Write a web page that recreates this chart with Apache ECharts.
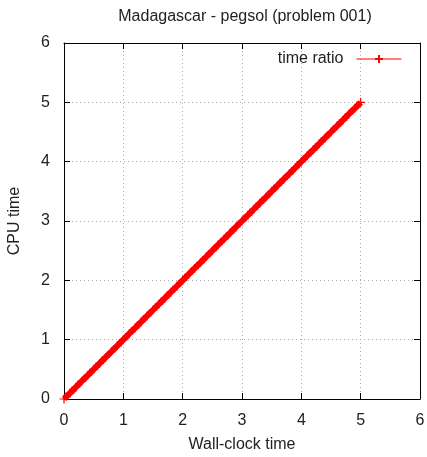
<!DOCTYPE html>
<html>
<head>
<meta charset="utf-8">
<script src="https://cdn.jsdelivr.net/npm/echarts@6/dist/echarts.min.js"></script>
<style>
  html, body { margin: 0; padding: 0; background: #fff; }
  #chart { width: 427px; height: 457px; }
</style>
</head>
<body>
<div id="chart"></div>
<script>
var wallTime = [0, 0.1, 0.2, 0.3, 0.4, 0.5, 0.6, 0.7, 0.8, 0.9, 1.0, 1.1, 1.2, 1.3, 1.4, 1.5, 1.6, 1.7, 1.8, 1.9,
  2.0, 2.1, 2.2, 2.3, 2.4, 2.5, 2.6, 2.7, 2.8, 2.9, 3.0, 3.1, 3.2, 3.3, 3.4, 3.5, 3.6, 3.7, 3.8, 3.9,
  4.0, 4.1, 4.2, 4.3, 4.4, 4.5, 4.6, 4.7, 4.8, 4.9, 5.0]
var cpuTime = [0, 0.1, 0.2, 0.3, 0.4, 0.5, 0.6, 0.7, 0.8, 0.9, 1.0, 1.1, 1.2, 1.3, 1.4, 1.5, 1.6, 1.7, 1.8, 1.9,
  2.0, 2.1, 2.2, 2.3, 2.4, 2.5, 2.6, 2.7, 2.8, 2.9, 3.0, 3.1, 3.2, 3.3, 3.4, 3.5, 3.6, 3.7, 3.8, 3.9,
  4.0, 4.1, 4.2, 4.3, 4.4, 4.5, 4.6, 4.7, 4.8, 4.9, 5.0]
var xTicks = [0, 1, 2, 3, 4, 5, 6]
var yTicks = [0, 1, 2, 3, 4, 5, 6]

var font = 'Liberation Sans, Arial, sans-serif'
var fs = 16
var points = wallTime.map(function (w, i) { return [w, cpuTime[i]] })

var chart = echarts.init(document.getElementById('chart'))

function mainAxis(name, pos, ticks, nameGap, margin) {
  return {
    type: 'value',
    position: pos,
    min: ticks[0],
    max: ticks[ticks.length - 1],
    interval: 1,
    name: name,
    nameLocation: 'middle',
    nameGap: nameGap,
    nameTextStyle: { fontFamily: font, fontSize: fs, color: '#222' },
    axisLine: { show: true, onZero: false, lineStyle: { color: '#000', width: 1 } },
    axisTick: { show: true, inside: true, length: 6, lineStyle: { color: '#000' } },
    axisLabel: { fontFamily: font, fontSize: fs, color: '#222', margin: margin },
    splitLine: { show: true, lineStyle: { color: '#aaa', type: [1, 3], width: 1 } }
  }
}

function mirrorAxis(pos, ticks) {
  return {
    type: 'value',
    position: pos,
    min: ticks[0],
    max: ticks[ticks.length - 1],
    interval: 1,
    axisLine: { show: true, onZero: false, lineStyle: { color: '#000', width: 1 } },
    axisTick: { show: true, inside: true, length: 6, lineStyle: { color: '#000' } },
    axisLabel: { show: false },
    splitLine: { show: false }
  }
}

chart.setOption({
  animation: false,
  backgroundColor: '#fff',
  title: {
    text: 'Madagascar - pegsol (problem 001)',
    left: 240,
    textAlign: 'center',
    top: 4,
    textStyle: { fontFamily: font, fontSize: fs, fontWeight: 'normal', color: '#222' }
  },
  grid: { left: 64, right: 7, top: 43, bottom: 58, outerBoundsMode: 'none', containLabel: false },
  legend: {
    right: 20,
    top: 46,
    align: 'right',
    itemWidth: 45,
    itemHeight: 10,
    itemGap: 10,
    textStyle: { fontFamily: font, fontSize: fs, color: '#222', padding: [0, 8, 0, 0] },
    lineStyle: { width: 1 },
    data: ['time ratio']
  },
  xAxis: [
    mainAxis('Wall-clock time', 'bottom', xTicks, 38, 14),
    mirrorAxis('top', xTicks)
  ],
  yAxis: [
    mainAxis('CPU time', 'left', yTicks, 41, 14),
    mirrorAxis('right', yTicks)
  ],
  series: [
    {
      name: 'time ratio',
      type: 'line',
      data: points,
      lineStyle: { color: '#f00', width: 6 },
      symbol: 'path://M0,5L10,5M5,0L5,10',
      symbolSize: 9,
      showAllSymbol: true,
      itemStyle: { color: '#f00', borderColor: '#f00', borderWidth: 1.2 }
    }
  ]
})
</script>
</body>
</html>
